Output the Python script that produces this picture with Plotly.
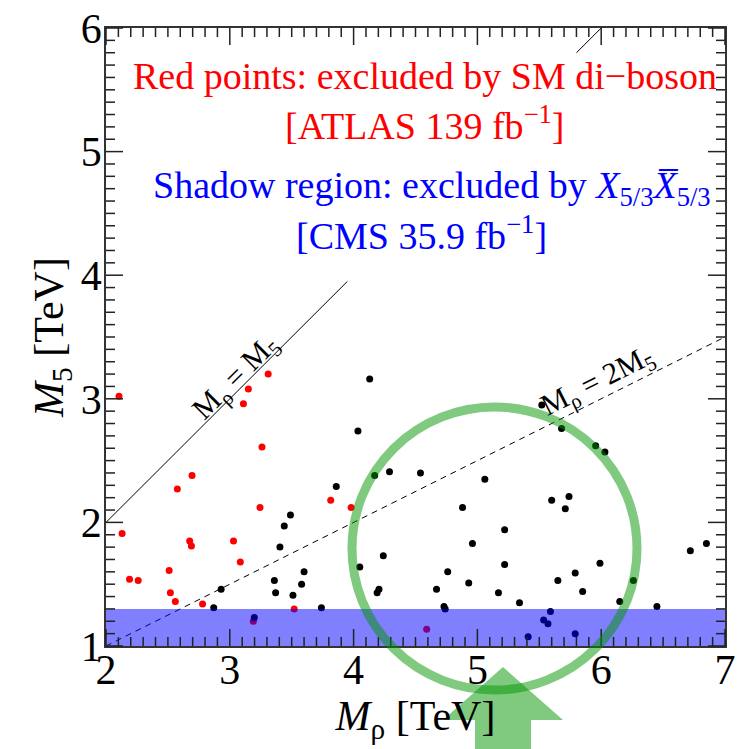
import plotly.graph_objects as go

# ---------------- data ----------------
red_x = [2.105, 3.31, 3.15, 3.11, 3.26, 2.695, 2.576, 3.244, 3.815, 3.98, 2.13, 2.676, 2.69,
         3.03, 3.085, 2.19, 2.26, 2.51, 2.52, 2.56, 2.78, 3.19, 3.52, 4.59]
red_y = [3.02, 3.20, 3.08, 2.96, 2.61, 2.38, 2.27, 2.12, 2.18, 2.12, 1.91, 1.85, 1.81,
         1.85, 1.68, 1.54, 1.53, 1.61, 1.43, 1.36, 1.34, 1.20, 1.30, 1.135]

black_x = [3.86, 3.49, 3.44, 3.405, 3.60, 3.58, 3.36, 3.37, 3.51, 2.93,
           2.87, 3.198, 3.74,
           4.13, 4.035, 5.52, 5.68, 4.17, 4.29, 4.54, 5.06, 4.88, 5.60, 5.74, 5.71, 5.22,
           4.96, 4.24, 4.05, 5.22, 4.76, 5.65, 5.79, 5.85, 4.205, 4.19, 4.67, 4.93, 5.17, 5.34,
           4.73, 4.74, 5.59, 5.535, 5.57, 5.41, 5.79,
           5.955, 6.03, 5.99, 6.26, 6.15, 6.45, 6.72, 6.85]
black_y = [2.29, 2.06, 1.97, 1.80, 1.60, 1.50, 1.53, 1.43, 1.41, 1.46,
           1.31, 1.23, 1.31,
           3.16, 2.74, 2.95, 2.76, 2.38, 2.41, 2.40, 2.35, 2.12, 2.18, 2.21, 2.11, 1.94,
           1.83, 1.73, 1.64, 1.66, 1.60, 1.53, 1.59, 1.44, 1.46, 1.43, 1.46, 1.51, 1.43, 1.35,
           1.32, 1.30, 1.28, 1.21, 1.18, 1.075, 1.10,
           2.62, 2.57, 1.67, 1.53, 1.36, 1.32, 1.77, 1.83]

# reference lines (M_rho = M5 drawn in two visible pieces, M_rho = 2 M5 dashed)
eq_x = [2.0, 3.95, None, 5.80, 6.0]
half_x = [2.0, 7.0]

band_y = [1.0, 1.3]           # excluded shadow region in M5
x_range = [2, 7]
y_range = [1, 6]
major_step = 1
minor_per_major = 10

# page geometry (page pixels); the html body adds an 8px offset
OFF = 8
W, H = 743 - OFF, 749 - OFF
PL, PR, PT, PB = 106 - OFF, 725 - OFF, 28 - OFF, 646 - OFF
PW, PH = PR - PL, PB - PT
circle_px = dict(x0=352, x1=637, y0=407, y1=690)
arrow_px = [(503, 667), (563, 720), (531, 720), (531, 770), (475, 770), (475, 720), (443, 720)]
MAJ_LEN, MIN_LEN = 17, 9
TICK_COLOR = "#222222"


def px_to_paper(px, py):
    px, py = px - OFF, py - OFF
    return (px - PL) / PW, (PB - py) / PH


FONT = "Liberation Serif"

fig = go.Figure()

fig.add_trace(go.Scatter(x=eq_x, y=eq_x, mode="lines",
                         line=dict(color="black", width=1), hoverinfo="skip"))
fig.add_trace(go.Scatter(x=half_x, y=[v / 2 for v in half_x], mode="lines",
                         line=dict(color="black", width=1, dash="6px,5px"), hoverinfo="skip"))
fig.add_trace(go.Scatter(x=red_x, y=red_y, mode="markers",
                         marker=dict(color="#ff0000", size=7, line=dict(width=0))))
fig.add_trace(go.Scatter(x=black_x, y=black_y, mode="markers",
                         marker=dict(color="#000000", size=7, line=dict(width=0))))

shapes = []
shapes.append(dict(type="rect", xref="paper", yref="y", x0=0, x1=1, y0=band_y[0], y1=band_y[1],
                   fillcolor="rgba(0,0,255,0.5)", line=dict(width=0), layer="above"))


def tick_positions(rng):
    n = int(round((rng[1] - rng[0]) / major_step * minor_per_major))
    return [(rng[0] + i * major_step / minor_per_major, i % minor_per_major == 0)
            for i in range(n + 1)]


# tick marks drawn inside on all four sides, in paper coordinates
for v, is_major in tick_positions(x_range):
    fx = (v - x_range[0]) / (x_range[1] - x_range[0])
    L = (MAJ_LEN if is_major else MIN_LEN) / PH
    for y0, y1 in ((0, L), (1 - L, 1)):
        shapes.append(dict(type="line", xref="paper", yref="paper", x0=fx, x1=fx, y0=y0, y1=y1,
                           line=dict(color=TICK_COLOR, width=1.5), layer="above"))
for v, is_major in tick_positions(y_range):
    fy = (v - y_range[0]) / (y_range[1] - y_range[0])
    L = (MAJ_LEN if is_major else MIN_LEN) / PW
    for x0, x1 in ((0, L), (1 - L, 1)):
        shapes.append(dict(type="line", xref="paper", yref="paper", x0=x0, x1=x1, y0=fy, y1=fy,
                           line=dict(color=TICK_COLOR, width=1.5), layer="above"))

cx0, cy0 = px_to_paper(circle_px["x0"], circle_px["y1"])
cx1, cy1 = px_to_paper(circle_px["x1"], circle_px["y0"])
shapes.append(dict(type="circle", xref="paper", yref="paper", x0=cx0, x1=cx1, y0=cy0, y1=cy1,
                   line=dict(color="rgba(0,150,0,0.5)", width=9), fillcolor="rgba(0,0,0,0)",
                   layer="above"))
pts = [px_to_paper(a, b) for a, b in arrow_px]
path = "M " + " L ".join(f"{a:.5f},{b:.5f}" for a, b in pts) + " Z"
shapes.append(dict(type="path", xref="paper", yref="paper", path=path,
                   fillcolor="rgba(0,150,0,0.5)", line=dict(width=0), layer="above"))

TS = 38
annotations = [
    dict(x=4.577, y=5.61, text="Red points: excluded by SM di\u2212boson",
         font=dict(color="#ff0000", size=TS, family=FONT)),
    dict(x=4.577, y=5.23, text="[ATLAS 139 fb<sup>\u22121</sup>]",
         font=dict(color="#ff0000", size=TS, family=FONT)),
    dict(x=4.63, y=4.705,
         text="Shadow region: excluded by <i>X</i><sub>5/3</sub><i>X\u0305</i><sub>5/3</sub>",
         font=dict(color="#0000ff", size=TS, family=FONT)),
    dict(x=4.55, y=4.34, text="[CMS 35.9 fb<sup>\u22121</sup>]",
         font=dict(color="#0000ff", size=TS, family=FONT)),
    dict(x=3.05, y=3.17, text="M<sub>\u03c1</sub> = M<sub>5</sub>", textangle=-45,
         font=dict(color="black", size=30, family=FONT)),
    dict(x=5.97, y=3.14, text="M<sub>\u03c1</sub> = 2M<sub>5</sub>", textangle=-26.6,
         font=dict(color="black", size=30, family=FONT)),
]
for a in annotations:
    a.update(xref="x", yref="y", showarrow=False)

axis_common = dict(
    showgrid=False, zeroline=False, showline=True, linecolor="#333333", linewidth=1.5,
    mirror=True, ticks="", tickmode="linear", dtick=major_step, ticklabeloverflow="allow",
    tickfont=dict(size=42, family=FONT, color="black"),
)

fig.update_layout(
    width=W, height=H,
    margin=dict(l=PL, r=W - PR, t=PT, b=H - PB, autoexpand=False),
    plot_bgcolor="white", paper_bgcolor="white",
    font=dict(family=FONT, color="black"),
    showlegend=False,
    shapes=shapes, annotations=annotations,
    xaxis=dict(range=x_range, tick0=x_range[0], ticklabelstandoff=-14, **axis_common,
               title=dict(text="<i>M</i><sub>\u03c1</sub> [TeV]",
                          font=dict(size=42, family=FONT, color="black"), standoff=2)),
    yaxis=dict(range=y_range, tick0=y_range[0], ticklabelstandoff=-6, **axis_common,
               title=dict(text="<i>M</i><sub>5</sub> [TeV]",
                          font=dict(size=42, family=FONT, color="black"), standoff=4)),
)

fig.write_html("out.html")
